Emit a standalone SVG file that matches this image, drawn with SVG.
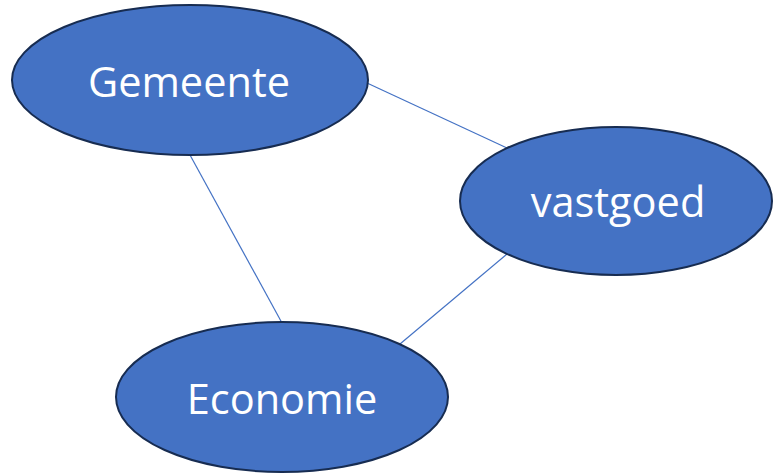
<svg xmlns="http://www.w3.org/2000/svg" width="774" height="474" viewBox="0 0 774 474">
<style>
.node{fill:#4472C4;stroke:#172C51;stroke-width:2}
.lbl{fill:#FFFFFF;font-family:"Open Sans","Liberation Sans",sans-serif;font-size:41.5px;text-anchor:middle}
.edge{stroke:#4472C4;stroke-width:1.2;fill:none}
</style>
<rect width="774" height="474" fill="#FFFFFF"/>
<g id="connectors">
<line class="edge" x1="367" y1="83" x2="507" y2="148"/>
<line class="edge" x1="190" y1="155" x2="282" y2="323"/>
<line class="edge" x1="507" y1="254" x2="400" y2="344"/>
</g>
<g id="gemeente">
<ellipse class="node" cx="190" cy="80" rx="178" ry="75"/>
<text class="lbl" x="189" y="97">Gemeente</text>
</g>
<g id="vastgoed">
<ellipse class="node" cx="616" cy="201" rx="156" ry="74"/>
<text class="lbl" x="618" y="217">vastgoed</text>
</g>
<g id="economie">
<ellipse class="node" cx="282" cy="397" rx="166" ry="75"/>
<text class="lbl" x="282" y="414">Economie</text>
</g>
</svg>
